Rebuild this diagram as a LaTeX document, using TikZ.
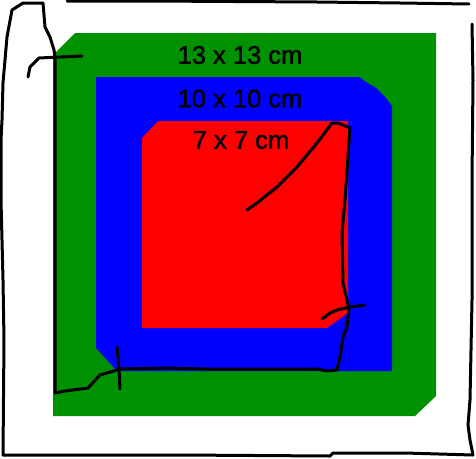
\documentclass[tikz,border=0pt]{standalone}
\usepackage{fontspec}
\setmainfont{Liberation Sans}
\newfontfamily\labelfont[FakeBold=1.5]{Liberation Sans}
\definecolor{grn}{RGB}{0,145,0}
\definecolor{blu}{RGB}{0,0,255}
\definecolor{rd}{RGB}{255,0,0}
\tikzset{
  label text/.style={font=\labelfont\fontsize{25.5}{30}\selectfont, text=black, inner sep=0pt},
  pen/.style={draw=black, line width=3pt, line join=round, line cap=round}
}
\begin{document}
\begin{tikzpicture}[x=1pt,y=-1pt]
\useasboundingbox (0,0) rectangle (476,458);
\fill[white] (0,0) rectangle (476,458);
% squares
\fill[grn] (53,55) -- (75,33) -- (436,33) -- (436,396) -- (415,416) -- (53,416) -- cycle;
\fill[blu] (96,77) -- (359,77) -- (366,82) -- (376,88) -- (386,98) -- (392,106) -- (392,371) -- (117,371) -- (96,348) -- cycle;
\fill[rd] (142,138) -- (158,121) -- (348,121) -- (348,313) -- (327,328) -- (142,328) -- cycle;
% labels
\node[label text] (t13) at (240,55) {13 x 13 cm};
\node[label text] (t10) at (240,98.5) {10 x 10 cm};
\node[label text] (t7) at (241,140) {7 x 7 cm};
% freehand strokes
\draw[pen] (67,1) -- (150,1) -- (317,2) -- (400,3) -- (469,4);
\draw[pen] (472,24) -- (473,80) -- (472,180) -- (472,300) -- (470,400) -- (468,425) -- (470,440) -- (473,455)
  -- (405,453) -- (333,453) -- (330,456) -- (180,455) -- (3,455)
  -- (4,340) -- (3,280) -- (1,200) -- (1,140) -- (2,120) -- (3,83) -- (7,37) -- (12,10) -- (23,3) -- (43,3)
  -- (45,27) -- (50,37) -- (54,50) -- (55,57) -- (55,393)
  -- (65,391) -- (88,388) -- (100,375) -- (110,372) -- (120,369) -- (167,368) -- (203,369) -- (317,369)
  -- (327,371) -- (337,370) -- (340,357) -- (343,337) -- (347,327) -- (349,310) -- (347,300) -- (343,283)
  -- (342,233) -- (345,200) -- (350,128) -- (338,123) -- (332,123)
  -- (317,143) -- (297,167) -- (277,187) -- (257,203) -- (247,210);
\draw[pen] (28,77) -- (30,67) -- (39,58) -- (82,56);
\draw[pen] (117,347) -- (119,368) -- (120,389);
\draw[pen] (322,319) -- (330,313) -- (337,310) -- (350,307) -- (365,305);
\end{tikzpicture}
\end{document}
